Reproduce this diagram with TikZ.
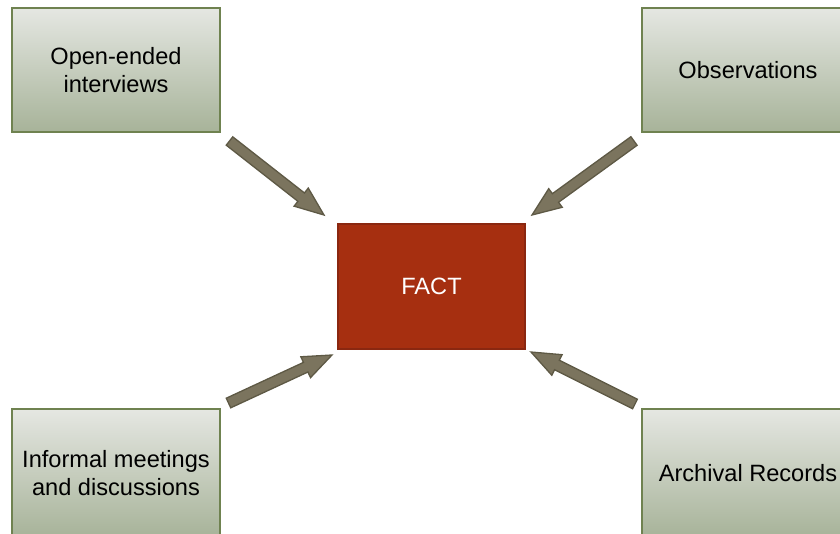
\documentclass[tikz,border=0pt]{standalone}
\usepackage{fontspec}
\setmainfont{Liberation Sans}
\usetikzlibrary{calc}

\definecolor{boxedge}{HTML}{6F8250}
\definecolor{boxtop}{HTML}{E5E7E2}
\definecolor{boxbottom}{HTML}{A7B399}
\definecolor{factfill}{HTML}{A62F10}
\definecolor{factedge}{HTML}{8A2710}
\definecolor{arrowfill}{HTML}{7B745E}
\definecolor{arrowedge}{HTML}{5E5945}

\tikzset{
  sourcebox/.style={draw=boxedge, line width=2pt, top color=boxtop, bottom color=boxbottom,
    minimum width=208pt, minimum height=124pt, inner sep=0pt, align=center,
    font=\fontsize{23.6}{28}\selectfont, text=black},
  factbox/.style={draw=factedge, line width=2pt, fill=factfill,
    minimum width=187pt, minimum height=125pt, inner sep=0pt,
    font=\fontsize{23.6}{28}\selectfont, text=white},
  fatarrowstyle/.style={fill=arrowfill, draw=arrowedge, line width=1.3pt, line join=miter}
}

% block arrow from #1 (tail centre) to #2 (tip)
\newcommand\FatArrow[2]{%
  \coordinate (neck) at ($(#2)!29pt!(#1)$);
  \draw[fatarrowstyle]
    ($(#1)!5.3pt!90:(#2)$) -- ($(neck)!5.3pt!-90:(#1)$) -- ($(neck)!11.5pt!-90:(#1)$)
    -- (#2) -- ($(neck)!11.5pt!90:(#1)$) -- ($(neck)!5.3pt!90:(#1)$)
    -- ($(#1)!5.3pt!-90:(#2)$) -- cycle;
}

\begin{document}
\begin{tikzpicture}[x=1pt, y=-1pt]
  \useasboundingbox (0,0) rectangle (840,533);
  \clip (0,0) rectangle (840,533);

  % the boxes on the right and at the bottom run past the page edge
  \node[sourcebox] (interviews) at (116,70) {Open-ended\\interviews};
  \node[sourcebox, minimum width=212pt] (observations) at (748,70) {Observations};
  \node[sourcebox, minimum height=128pt] (meetings) at (116,473) {Informal meetings\\and discussions};
  \node[sourcebox, minimum width=212pt, minimum height=128pt] (archival) at (748,473) {Archival Records};

  \node[factbox] (fact) at (431.5,286.5) {FACT};

  \coordinate (interviews-tail) at (229.5,141);
  \coordinate (interviews-tip) at (324,215);
  \coordinate (observations-tail) at (634,141);
  \coordinate (observations-tip) at (532,215);
  \coordinate (meetings-tail) at (228.5,403);
  \coordinate (meetings-tip) at (332,355);
  \coordinate (archival-tail) at (635,404);
  \coordinate (archival-tip) at (531,352);

  \FatArrow{interviews-tail}{interviews-tip}
  \FatArrow{observations-tail}{observations-tip}
  \FatArrow{meetings-tail}{meetings-tip}
  \FatArrow{archival-tail}{archival-tip}
\end{tikzpicture}
\end{document}
